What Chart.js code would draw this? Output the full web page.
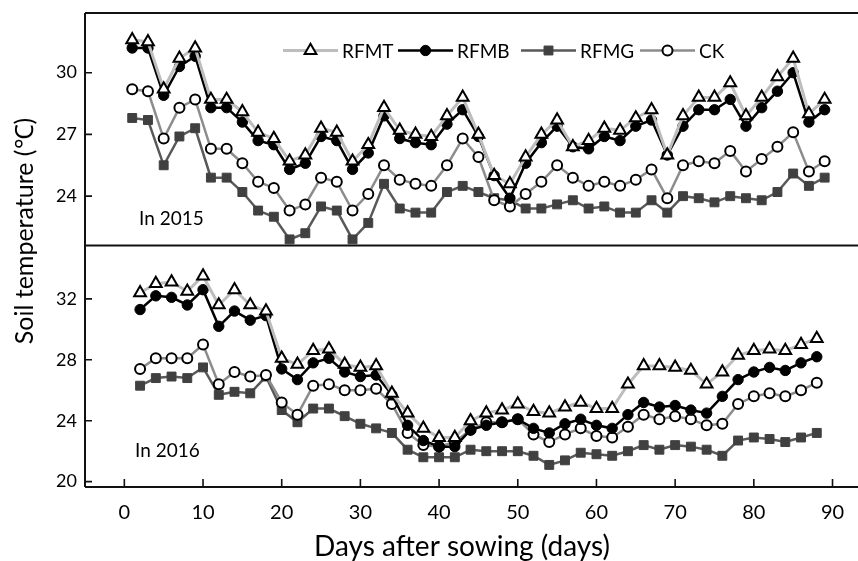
<!DOCTYPE html>
<html><head><meta charset="utf-8">
<script src="https://cdn.jsdelivr.net/npm/chart.js@4.4.1/dist/chart.umd.min.js"></script>
<style>
html,body{margin:0;padding:0;background:#fff;overflow:hidden;width:858px;height:561px}
#wrap{position:absolute;left:0;top:0;width:872px;height:561px}
</style></head><body>
<div id="wrap"><canvas id="c" width="872" height="561"></canvas></div>
<script>
// ---- data ----
const days2015 = [1,3,5,7,9,11,13,15,17,19,21,23,25,27,29,31,33,35,37,39,41,43,45,47,49,51,53,55,57,59,61,63,65,67,69,71,73,75,77,79,81,83,85,87,89];
const rfmt2015 = [31.6,31.5,29.2,30.7,31.2,28.7,28.7,28.1,27.1,26.8,25.7,26.0,27.3,27.1,25.7,26.5,28.3,27.2,27.0,26.9,27.9,28.8,27.0,25.0,24.6,25.9,27.0,27.7,26.4,26.7,27.3,27.2,27.8,28.2,26.0,27.9,28.8,28.8,29.5,27.9,28.8,29.8,30.7,28.0,28.7];
const rfmb2015 = [31.2,31.2,28.9,30.3,30.8,28.3,28.3,27.6,26.7,26.5,25.3,25.6,26.9,26.7,25.3,26.1,27.9,26.8,26.6,26.5,27.5,28.2,26.9,25.0,23.9,25.6,26.6,27.4,26.4,26.3,26.9,26.7,27.4,27.7,26.0,27.4,28.2,28.2,28.7,27.4,28.3,29.1,30.0,27.6,28.2];
const rfmg2015 = [27.8,27.7,25.5,26.9,27.3,24.9,24.9,24.2,23.3,23.0,21.9,22.2,23.5,23.3,21.9,22.7,24.6,23.4,23.2,23.2,24.2,24.5,24.2,23.9,23.8,23.4,23.4,23.6,23.8,23.4,23.5,23.2,23.2,23.8,23.2,24.0,23.9,23.7,24.0,23.9,23.8,24.2,25.1,24.5,24.9];
const ck2015   = [29.2,29.1,26.8,28.3,28.7,26.3,26.3,25.6,24.7,24.4,23.3,23.6,24.9,24.7,23.3,24.1,25.5,24.8,24.6,24.5,25.5,26.8,25.9,23.8,23.5,24.1,24.7,25.5,24.9,24.5,24.7,24.5,24.8,25.3,23.9,25.5,25.7,25.6,26.2,25.2,25.8,26.4,27.1,25.2,25.7];

const days2016 = [2,4,6,8,10,12,14,16,18,20,22,24,26,28,30,32,34,36,38,40,42,44,46,48,50,52,54,56,58,60,62,64,66,68,70,72,74,76,78,80,82,84,86,88];
const rfmt2016 = [32.4,33.0,33.1,32.5,33.5,31.6,32.6,31.6,31.2,28.1,27.7,28.6,28.7,27.7,27.5,27.6,25.8,24.5,23.5,22.9,22.9,24.0,24.5,24.7,25.1,24.6,24.5,24.9,25.2,24.8,24.8,26.4,27.6,27.6,27.5,27.3,26.4,27.2,28.3,28.6,28.7,28.6,29.0,29.4];
const rfmb2016 = [31.3,32.2,32.1,31.6,32.6,30.2,31.2,30.6,30.9,27.4,26.7,27.8,28.1,27.2,26.9,27.0,25.7,23.7,22.7,22.3,22.3,23.4,23.7,23.9,24.1,23.5,23.2,23.8,24.1,23.7,23.5,24.4,25.2,24.9,25.0,24.7,24.5,25.6,26.7,27.2,27.5,27.3,27.8,28.2];
const rfmg2016 = [26.3,26.8,26.9,26.8,27.5,25.7,25.9,25.8,26.9,24.7,23.9,24.8,24.8,24.3,23.8,23.5,23.2,22.1,21.6,21.6,21.6,22.1,22.0,22.0,22.0,21.7,21.1,21.4,21.9,21.8,21.7,22.0,22.4,22.1,22.4,22.3,22.1,21.7,22.7,22.9,22.8,22.6,22.9,23.2];
const ck2016   = [27.4,28.1,28.1,28.1,29.0,26.4,27.2,26.9,27.0,25.2,24.4,26.3,26.4,26.0,26.0,26.1,25.1,23.2,22.4,22.3,22.6,23.4,23.9,23.9,24.1,23.1,22.6,23.1,23.5,23.0,22.9,23.6,24.4,24.1,24.3,24.1,23.7,23.8,25.1,25.6,25.8,25.6,26.0,26.5];

const seriesNames = ['RFMT','RFMB','RFMG','CK'];
const xTicks = [0,10,20,30,40,50,60,70,80,90];
const yTicks2015 = [24,27,30];
const yTicks2016 = [20,24,28,32];
const panelLabels = ['In 2015','In 2016'];
const xTitle = 'Days after sowing (days)';
const yTitle = 'Soil temperature (℃)';

// ---- styles ----
const FONT = 'Lato, "Open Sans", sans-serif';
const styles = {
  RFMT: {line:'#bdbdbd', width:3, pointStyle:'triangle', radius:6.8, fill:'#ffffff', stroke:'#000000', bw:2},
  RFMB: {line:'#000000', width:2.5, pointStyle:'circle', radius:5.2, fill:'#000000', stroke:'#000000', bw:1},
  RFMG: {line:'#595959', width:2.5, pointStyle:'rect', radius:6.3, fill:'#404040', stroke:'#404040', bw:1},
  CK:   {line:'#8c8c8c', width:2.5, pointStyle:'circle', radius:5, fill:'#ffffff', stroke:'#000000', bw:2}
};

function pts(days, vals){ return days.map((d,i)=>({x:d, y:vals[i]})); }
function ds(name, days, vals, axis){
  const s = styles[name];
  return {label:name, data:pts(days, vals), yAxisID:axis,
    borderColor:s.line, borderWidth:s.width, tension:0,
    pointStyle:s.pointStyle, pointRadius:s.radius, pointHoverRadius:s.radius,
    pointBackgroundColor:s.fill, pointBorderColor:s.stroke, pointBorderWidth:s.bw};
}
const datasets = [
  ds('RFMT', days2015, rfmt2015, 'yTop'),
  ds('RFMB', days2015, rfmb2015, 'yTop'),
  ds('CK',   days2015, ck2015,   'yTop'),
  ds('RFMG', days2015, rfmg2015, 'yTop'),
  ds('RFMT', days2016, rfmt2016, 'yBot'),
  ds('RFMB', days2016, rfmb2016, 'yBot'),
  ds('CK',   days2016, ck2016,   'yBot'),
  ds('RFMG', days2016, rfmg2016, 'yBot')
];

function marker(ctx, name, x, y){
  const s = styles[name];
  ctx.save();
  ctx.fillStyle = s.fill; ctx.strokeStyle = s.stroke; ctx.lineWidth = s.bw;
  if (Chart.helpers && Chart.helpers.drawPoint) {
    Chart.helpers.drawPoint(ctx, {pointStyle:s.pointStyle, radius:s.radius, rotation:0, borderWidth:s.bw}, x, y);
  } else {
    ctx.beginPath(); ctx.arc(x, y, s.radius, 0, Math.PI*2); ctx.fill(); ctx.stroke();
  }
  ctx.restore();
}

const deco = {
  id:'deco',
  afterDraw(chart){
    const {ctx, scales} = chart;
    const yT = scales.yTop, yB = scales.yBot, xs = scales.x;
    const L = xs.left, R = xs.right;
    const top = Math.min(yT.top, yB.top), bottom = Math.max(yT.bottom, yB.bottom);
    const mid = yT.bottom;
    ctx.save();
    ctx.strokeStyle = '#111'; ctx.lineWidth = 2;
    ctx.beginPath();
    ctx.moveTo(L, top); ctx.lineTo(L, bottom);
    ctx.moveTo(L, top); ctx.lineTo(R, top);
    ctx.moveTo(L, mid); ctx.lineTo(R, mid);
    ctx.moveTo(L, bottom); ctx.lineTo(R, bottom);
    ctx.stroke();
    // inward tick marks
    ctx.lineWidth = 1.6;
    ctx.beginPath();
    yTicks2015.forEach(v=>{ const p = yT.getPixelForValue(v); ctx.moveTo(L, p); ctx.lineTo(L+7, p); });
    yTicks2016.forEach(v=>{ const p = yB.getPixelForValue(v); ctx.moveTo(L, p); ctx.lineTo(L+7, p); });
    xTicks.forEach(v=>{ const p = xs.getPixelForValue(v); ctx.moveTo(p, bottom); ctx.lineTo(p, bottom-8); });
    ctx.stroke();
    // panel labels
    ctx.fillStyle = '#000';
    ctx.font = '19px ' + FONT;
    ctx.textBaseline = 'middle'; ctx.textAlign = 'left';
    ctx.fillText(panelLabels[0], 139, 219);
    ctx.fillText(panelLabels[1], 135, 451);
    // x title
    ctx.textAlign = 'center'; ctx.font = '28px ' + FONT;
    ctx.fillText(xTitle, 462, 547);
    // y title
    ctx.save();
    ctx.translate(25, 231); ctx.rotate(-Math.PI/2);
    ctx.textAlign = 'center'; ctx.font = '25px ' + FONT;
    ctx.fillText(yTitle, 0, 0);
    ctx.restore();
    // legend
    const starts = [283, 398, 521, 640];
    const ly = 50.5;
    seriesNames.forEach((n,i)=>{
      const s = styles[n];
      const x0 = starts[i];
      ctx.strokeStyle = s.line; ctx.lineWidth = s.width;
      ctx.beginPath(); ctx.moveTo(x0, ly); ctx.lineTo(x0+55, ly); ctx.stroke();
      marker(ctx, n, x0+27.5, ly);
      ctx.fillStyle = '#000'; ctx.font = '19px ' + FONT; ctx.textAlign='left'; ctx.textBaseline='middle';
      ctx.fillText(n, x0+59, ly+1);
    });
    ctx.restore();
  }
};

function noPad(s){ s.paddingTop = 0; s.paddingBottom = 0; s.paddingLeft = 0; s.paddingRight = 0; }

new Chart(document.getElementById('c'), {
  type:'line',
  data:{datasets},
  options:{
    responsive:false, animation:false,
    layout:{padding:{top:13, left:0, right:0, bottom:0}},
    plugins:{legend:{display:false}, tooltip:{enabled:false}},
    scales:{
      x:{type:'linear', position:'bottom', min:-5, max:93.9,
        afterBuildTicks:s=>{ s.ticks = xTicks.map(v=>({value:v})); },
        afterFit:s=>{ s.height = 74; noPad(s); },
        grid:{display:false, drawTicks:false}, border:{display:false},
        ticks:{padding:14, color:'#000', font:{family:FONT, size:20}},
        title:{display:false}
      },
      yBot:{type:'linear', position:'left', stack:'panels', stackWeight:241.6, min:19.65, max:35.5,
        afterBuildTicks:s=>{ s.ticks = yTicks2016.map(v=>({value:v})); },
        afterFit:s=>{ s.width = 85; noPad(s); },
        grid:{display:false, drawTicks:false}, border:{display:false},
        ticks:{padding:8, color:'#000', font:{family:FONT, size:18}}
      },
      yTop:{type:'linear', position:'left', stack:'panels', stackWeight:232.7, min:21.6, max:32.9,
        afterBuildTicks:s=>{ s.ticks = yTicks2015.map(v=>({value:v})); },
        afterFit:s=>{ s.width = 85; noPad(s); },
        grid:{display:false, drawTicks:false}, border:{display:false},
        ticks:{padding:8, color:'#000', font:{family:FONT, size:18}}
      }
    }
  },
  plugins:[deco]
});
</script>
</body></html>
